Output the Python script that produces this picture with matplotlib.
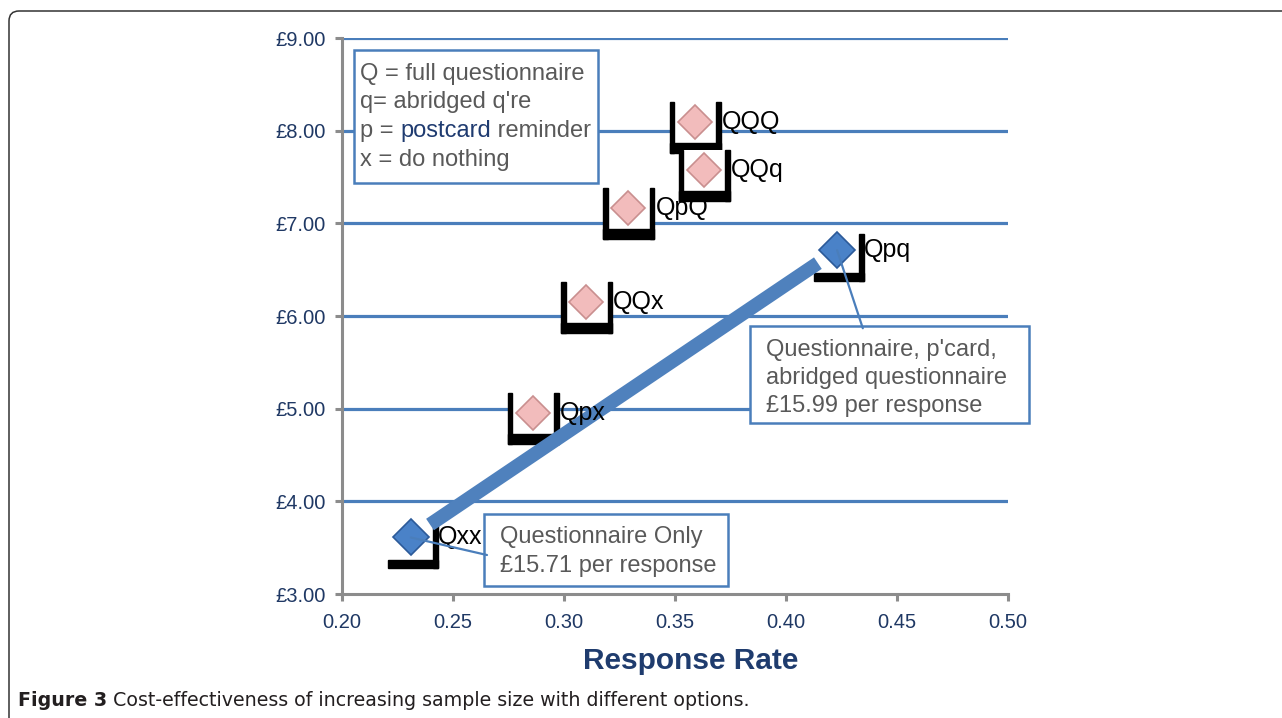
import matplotlib
matplotlib.use("Agg")
import matplotlib.pyplot as plt
import matplotlib.transforms as mtransforms
from matplotlib.patches import Rectangle, FancyBboxPatch

plt.rcParams['font.family'] = ['Liberation Sans', 'DejaVu Sans']

# data
labels = ['Qxx', 'Qpx', 'QQx', 'QpQ', 'QQQ', 'QQq', 'Qpq']
rate = [0.231, 0.286, 0.310, 0.329, 0.359, 0.363, 0.423]
cost = [3.61, 4.95, 6.15, 7.17, 8.09, 7.58, 6.71]
is_blue = [True, False, False, False, False, False, True]

x_ticks = [0.20, 0.25, 0.30, 0.35, 0.40, 0.45, 0.50]
y_ticks = [3, 4, 5, 6, 7, 8, 9]

grid_blue = "#4a7ebb"
navy = "#1f3864"
gray_txt = "#595959"

fig = plt.figure(figsize=(12.82, 7.18), dpi=100)
ax = fig.add_axes([342/1282, 1 - 594/718, 666/1282, 556/718])
ax.set_xlim(0.20, 0.50)
ax.set_ylim(3, 9)

# horizontal gridlines
for yv in y_ticks[1:]:
    ax.axhline(yv, color=grid_blue, lw=2.3, zorder=0)

for s in ['top', 'right']:
    ax.spines[s].set_visible(False)
for s in ['left', 'bottom']:
    ax.spines[s].set_color("#8c8c8c")
    ax.spines[s].set_linewidth(2.2)
    ax.spines[s].set_zorder(1)

ax.set_xticks(x_ticks)
ax.set_xticklabels(["%.2f" % v for v in x_ticks])
ax.set_yticks(y_ticks)
ax.set_yticklabels(["£%.2f" % v for v in y_ticks])
ax.tick_params(axis='both', direction='out', length=5, width=2.2, color="#8c8c8c",
               labelsize=14.5, labelcolor=navy)
ax.tick_params(axis='y', pad=7)
ax.tick_params(axis='x', pad=9)

ax.set_xlabel("Response Rate", fontsize=21.5, fontweight='bold', color="#1f3c6e")
ax.xaxis.set_label_coords(0.524, -0.095)

# black label "brackets" behind each point (white fill hides grid)
for xv, yv, blue in zip(rate, cost, is_blue):
    tr = fig.dpi_scale_trans + mtransforms.ScaledTranslation(xv, yv, ax.transData)
    if blue:
        ax.add_patch(Rectangle((-0.23, -0.31), 0.50, 0.08, transform=tr, color='black', zorder=2))
        ax.add_patch(Rectangle((0.22, -0.31), 0.05, 0.47, transform=tr, color='black', zorder=2))
    else:
        ax.add_patch(Rectangle((-0.24, -0.30), 0.50, 0.50, transform=tr, facecolor='white',
                               edgecolor='none', zorder=2))
        ax.add_patch(Rectangle((-0.25, -0.31), 0.045, 0.51, transform=tr, color='black', zorder=2))
        ax.add_patch(Rectangle((-0.25, -0.31), 0.51, 0.10, transform=tr, color='black', zorder=2))
        ax.add_patch(Rectangle((0.215, -0.31), 0.045, 0.51, transform=tr, color='black', zorder=2))

# trend line between the two blue options
bx = [xv for xv, b in zip(rate, is_blue) if b]
by = [yv for yv, b in zip(cost, is_blue) if b]
t0, t1 = 0.045, 0.955
ax.plot([bx[0] + t0*(bx[1]-bx[0]), bx[0] + t1*(bx[1]-bx[0])],
        [by[0] + t0*(by[1]-by[0]), by[0] + t1*(by[1]-by[0])],
        color="#4f81bd", lw=10, solid_capstyle='butt', zorder=3)

# markers
for xv, yv, blue in zip(rate, cost, is_blue):
    if blue:
        ax.plot(xv, yv, marker='D', ms=18.5, mfc="#4a82c8", mec="#2c5a99", mew=1.2, zorder=4)
    else:
        ax.plot(xv, yv, marker='D', ms=17, mfc="#f2bcbc", mec="#c98f8f", mew=1.2, zorder=4)

for xv, yv, lab in zip(rate, cost, labels):
    ax.annotate(lab, (xv, yv), xytext=(19.5, 0), textcoords='offset points',
                fontsize=18, color='black', va='center', ha='left', zorder=5)

# key box
ax.add_patch(Rectangle((0.018, 0.739), 0.366, 0.239, transform=ax.transAxes, facecolor='white',
                       edgecolor=grid_blue, lw=1.8, zorder=6))
ax.text(0.027, 0.935, "Q = full questionnaire", transform=ax.transAxes, fontsize=17,
        color=gray_txt, va='center', zorder=7)
ax.text(0.027, 0.885, "q= abridged q're", transform=ax.transAxes, fontsize=17,
        color=gray_txt, va='center', zorder=7)
t = ax.text(0.027, 0.833, "p = ", transform=ax.transAxes, fontsize=17,
            color=gray_txt, va='center', zorder=7)
t2 = ax.annotate("postcard", xy=(1, 0.5), xycoords=t, fontsize=17, color="#1f3b70",
                 va='center', ha='left', zorder=7)
ax.annotate(" reminder", xy=(1, 0.5), xycoords=t2, fontsize=17, color=gray_txt,
            va='center', ha='left', zorder=7)
ax.text(0.027, 0.781, "x = do nothing", transform=ax.transAxes, fontsize=17,
        color=gray_txt, va='center', zorder=7)

# callout boxes
ax.add_patch(Rectangle((0.213, 0.0144), 0.367, 0.130, transform=ax.transAxes, facecolor='white',
                       edgecolor=grid_blue, lw=1.8, zorder=6))
ax.text(0.237, 0.1025, "Questionnaire Only", transform=ax.transAxes, fontsize=17,
        color=gray_txt, va='center', zorder=7)
ax.text(0.237, 0.050, "£15.71 per response", transform=ax.transAxes, fontsize=17,
        color=gray_txt, va='center', zorder=7)
ax.annotate("", xy=(bx[0], by[0]), xytext=(0.2177, 0.0701), textcoords=ax.transAxes,
            arrowprops=dict(arrowstyle='-', color=grid_blue, lw=1.6, shrinkA=0, shrinkB=0),
            zorder=6)

ax.add_patch(Rectangle((0.613, 0.3076), 0.4185, 0.1744, transform=ax.transAxes, facecolor='white',
                       edgecolor=grid_blue, lw=1.8, zorder=6, clip_on=False))
for yy, line in zip([0.439, 0.388, 0.338],
                    ["Questionnaire, p'card,", "abridged questionnaire", "£15.99 per response"]):
    ax.text(0.637, yy, line, transform=ax.transAxes, fontsize=17, color=gray_txt,
            va='center', zorder=7)
ax.annotate("", xy=(bx[1], by[1]), xytext=(0.782, 0.478), textcoords=ax.transAxes,
            arrowprops=dict(arrowstyle='-', color=grid_blue, lw=1.6, shrinkA=0, shrinkB=0),
            zorder=7)

# outer frame and caption
fig.patches.append(FancyBboxPatch((0.09, -0.3), 13.2, 7.37, boxstyle="round,pad=0,rounding_size=0.1",
                                  transform=fig.dpi_scale_trans, facecolor='none',
                                  edgecolor="#333333", lw=1.1))
cap = fig.text(18/1282, 1 - 700/718, "Figure 3", fontsize=13.7, fontweight='bold',
               family='DejaVu Sans', va='center', color="#231f20")
ax.annotate(" Cost-effectiveness of increasing sample size with different options.",
            xy=(1, 0.5), xycoords=cap, fontsize=13.7, va='center', ha='left',
            family='DejaVu Sans', color="#231f20", annotation_clip=False)

fig.savefig("out.png", dpi=100)
